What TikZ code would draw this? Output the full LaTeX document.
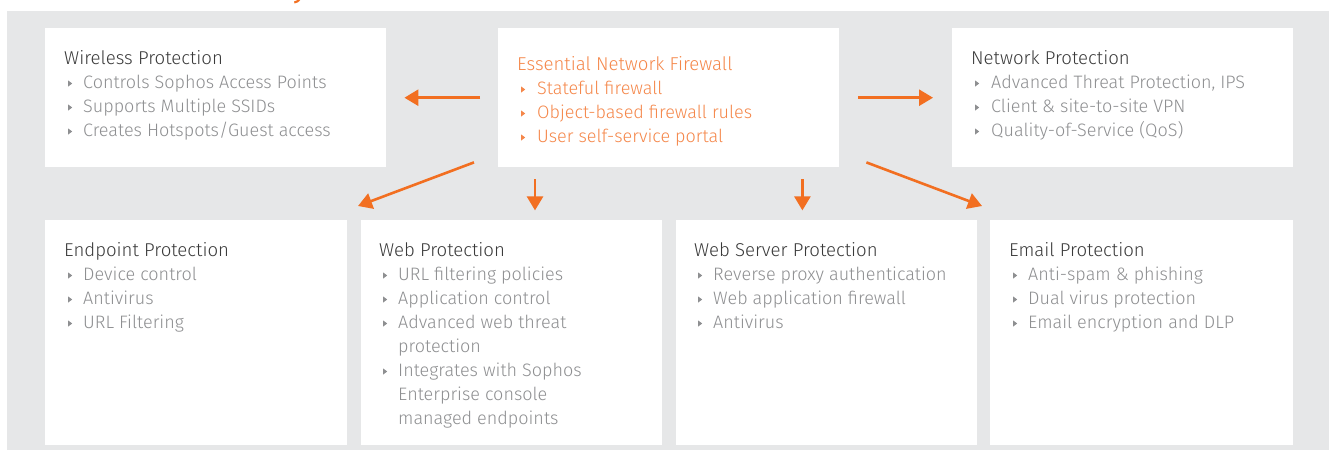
\documentclass[tikz,border=0pt]{standalone}
\usepackage{fontspec}
\setmainfont{Fira Sans Light}
\newfontfamily\headfont{Fira Sans}
\usetikzlibrary{arrows.meta,calc}
\definecolor{bggray}{HTML}{E6E7E8}
\definecolor{sorange}{HTML}{F26F21}
\definecolor{torange}{HTML}{F5874A}
\definecolor{tgray}{HTML}{8E8F91}
\definecolor{tdark}{HTML}{3A3A3A}
\newcommand{\bul}[1]{\hspace*{4pt}\tikz[baseline=0pt]\fill[#1] (0pt,1.5pt)--(0pt,7.5pt)--(4pt,4.5pt)--cycle;}
\newcommand{\listfont}{\fontsize{18}{24}\selectfont}
\newcommand{\hd}[1]{\fontsize{18.6}{24}\selectfont #1}
\tikzset{
  box/.style={fill=white, draw=none, anchor=north west, inner sep=0pt},
  txt/.style={anchor=base west, inner sep=0pt, text=tgray, font=\listfont},
  conn/.style={draw=sorange, line width=2.6pt, -{Triangle[length=14pt,width=16pt]}},
}
\begin{document}
\begin{tikzpicture}[x=1pt,y=-1pt]
\useasboundingbox (0,0) rectangle (1329,450);
\fill[bggray] (7,11) rectangle (1329,450);
\node[text=sorange, font=\headfont\fontsize{30}{30}\selectfont, anchor=base, inner sep=0pt] (ttl) at (300,-3) {y};
% boxes
\node[box, minimum width=341pt, minimum height=139pt] (wl) at (45,28) {};
\node[box, minimum width=341pt, minimum height=139pt] (fw) at (498,28) {};
\node[box, minimum width=341pt, minimum height=139pt] (np) at (952,28) {};
\node[box, minimum width=302pt, minimum height=225pt] (ep) at (45,220) {};
\node[box, minimum width=301pt, minimum height=225pt] (wp) at (361,220) {};
\node[box, minimum width=301pt, minimum height=225pt] (ws) at (676,220) {};
\node[box, minimum width=303pt, minimum height=225pt] (em) at (990,220) {};
% texts
\node[txt] (wlt) at (64,64) {\begin{tabular}[t]{@{}p{19pt}@{}l@{}}
\multicolumn{2}{@{}l@{}}{\color{tdark}\hd{Wireless Protection}}\\
\bul{tgray} & Controls Sophos Access Points\\
\bul{tgray} & Supports Multiple SSIDs\\
\bul{tgray} & Creates Hotspots/Guest access
\end{tabular}};
\node[txt, text=torange] (fwt) at (517,70) {\begin{tabular}[t]{@{}p{20pt}@{}l@{}}
\multicolumn{2}{@{}l@{}}{\hd{Essential Network Firewall}}\\
\bul{torange} & Stateful firewall\\
\bul{torange} & Object-based firewall rules\\
\bul{torange} & User self-service portal
\end{tabular}};
\node[txt] (npt) at (971,64) {\begin{tabular}[t]{@{}p{20pt}@{}l@{}}
\multicolumn{2}{@{}l@{}}{\color{tdark}\hd{Network Protection}}\\
\bul{tgray} & Advanced Threat Protection, IPS\\
\bul{tgray} & Client \& site-to-site VPN\\
\bul{tgray} & Quality-of-Service (QoS)
\end{tabular}};
\node[txt] (ept) at (64,256) {\begin{tabular}[t]{@{}p{19pt}@{}l@{}}
\multicolumn{2}{@{}l@{}}{\color{tdark}\hd{Endpoint Protection}}\\
\bul{tgray} & Device control\\
\bul{tgray} & Antivirus\\
\bul{tgray} & URL Filtering
\end{tabular}};
\node[txt] (wpt) at (379,256) {\begin{tabular}[t]{@{}p{19pt}@{}l@{}}
\multicolumn{2}{@{}l@{}}{\color{tdark}\hd{Web Protection}}\\
\bul{tgray} & URL filtering policies\\
\bul{tgray} & Application control\\
\bul{tgray} & Advanced web threat\\
 & protection\\
\bul{tgray} & Integrates with Sophos\\
 & Enterprise console\\
 & managed endpoints
\end{tabular}};
\node[txt] (wst) at (694,256) {\begin{tabular}[t]{@{}p{19pt}@{}l@{}}
\multicolumn{2}{@{}l@{}}{\color{tdark}\hd{Web Server Protection}}\\
\bul{tgray} & Reverse proxy authentication\\
\bul{tgray} & Web application firewall\\
\bul{tgray} & Antivirus
\end{tabular}};
\node[txt] (emt) at (1009,256) {\begin{tabular}[t]{@{}p{19pt}@{}l@{}}
\multicolumn{2}{@{}l@{}}{\color{tdark}\hd{Email Protection}}\\
\bul{tgray} & Anti-spam \& phishing\\
\bul{tgray} & Dual virus protection\\
\bul{tgray} & Email encryption and DLP
\end{tabular}};
% connector end points
\coordinate (a1s) at ($(fw.west)+(-18,0)$);
\coordinate (a1e) at ($(wl.east)+(18,0)$);
\coordinate (a2s) at ($(fw.east)+(19,0)$);
\coordinate (a2e) at ($(np.west)+(-19,0)$);
\coordinate (a3s) at ($(fw.south west)+(-24,-5)$);
\coordinate (a3e) at ($(wp.north west)+(-3,-14)$);
\coordinate (a4s) at ($(fw.south west)+(37,12)$);
\coordinate (a4e) at ($(fw.south west)+(37,43)$);
\coordinate (a5s) at ($(fw.south east)+(-37,12)$);
\coordinate (a5e) at ($(fw.south east)+(-37,43)$);
\coordinate (a6s) at ($(fw.south east)+(27,-5)$);
\coordinate (a6e) at ($(em.north west)+(-8,-14)$);
\draw[conn] (a1s) -- (a1e);
\draw[conn] (a2s) -- (a2e);
\draw[conn] (a3s) -- (a3e);
\draw[conn] (a4s) -- (a4e);
\draw[conn] (a5s) -- (a5e);
\draw[conn] (a6s) -- (a6e);
\end{tikzpicture}
\end{document}
